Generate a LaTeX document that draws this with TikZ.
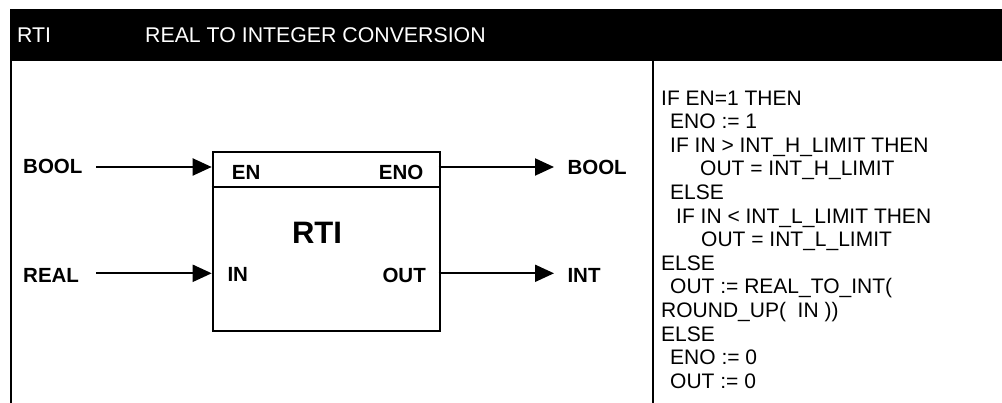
\documentclass[tikz,border=0pt]{standalone}
\usepackage{fontspec}
\setmainfont{Liberation Sans}
\usetikzlibrary{arrows.meta}
\begin{document}
\begin{tikzpicture}[x=1pt,y=-1pt,
  hdr/.style={anchor=base west,inner sep=0,text=white,font=\fontsize{21.3}{25}\selectfont},
  lbl/.style={inner sep=0,font=\fontsize{20.5}{24}\selectfont\bfseries},
  code/.style={anchor=base west,inner sep=0,font=\fontsize{21}{24}\selectfont},
  frame/.style={line width=2pt},
  sig/.style={line width=2pt,-{Triangle[length=19pt,width=17pt]}}]
\useasboundingbox (0,0) rectangle (1002,403);
% header bar
\fill[black] (10,9) rectangle (1002,61);
\node[hdr] (h1) at (17,42.7) {RTI};
\node[hdr] (h2) at (145,42.7) {REAL TO INTEGER CONVERSION};
% table lines
\coordinate (lt) at (11,61);
\coordinate (lb) at (11,403);
\coordinate (st) at (653,61);
\coordinate (sb) at (653,403);
\draw[frame] (lt) -- (lb);
\draw[frame] (st) -- (sb);
% block
\node[draw,frame,anchor=north west,inner sep=0,minimum width=227pt,minimum height=179pt] (blk) at (211.7,151) {};
\coordinate (sepL) at (211.7,187);
\coordinate (sepR) at (438.7,187);
\draw[frame] (sepL) -- (sepR);
\node[lbl,anchor=base west] (en) at (231.7,180) {EN};
\node[lbl,anchor=base east] (eno) at (423.5,180) {ENO};
\node[inner sep=0,anchor=base,font=\fontsize{31}{36}\selectfont\bfseries] (title) at (317,243.5) {RTI};
\node[lbl,anchor=base west] (in) at (227.3,282) {IN};
\node[lbl,anchor=base east] (out) at (426,283) {OUT};
% signal labels
\node[lbl,anchor=base west] (bin) at (23,173.5) {BOOL};
\node[lbl,anchor=base west] (rin) at (23,283) {REAL};
\node[lbl,anchor=base west] (bout) at (567.3,174.5) {BOOL};
\node[lbl,anchor=base west] (iout) at (567.3,283) {INT};
% connectors
\coordinate (a1s) at (96,167);
\coordinate (a1e) at (211.7,167);
\coordinate (a2s) at (96,273.3);
\coordinate (a2e) at (211.7,273.3);
\coordinate (a3s) at (438.7,167);
\coordinate (a3e) at (554,167);
\coordinate (a4s) at (438.7,273.3);
\coordinate (a4e) at (554,273.3);
\draw[sig] (a1s) -- (a1e);
\draw[sig] (a2s) -- (a2e);
\draw[sig] (a3s) -- (a3e);
\draw[sig] (a4s) -- (a4e);
% code
\node[code] (c1) at (661,105.2) {IF EN=1 THEN};
\node[code] (c2) at (670,128.8) {ENO := 1};
\node[code] (c3) at (670,152.4) {IF IN > INT\_H\_LIMIT THEN};
\node[code] (c4) at (700,176.0) {OUT = INT\_H\_LIMIT};
\node[code] (c5) at (670,199.6) {ELSE};
\node[code] (c6) at (676,223.2) {IF IN < INT\_L\_LIMIT THEN};
\node[code] (c7) at (701,246.8) {OUT = INT\_L\_LIMIT};
\node[code] (c8) at (661,270.4) {ELSE};
\node[code] (c9) at (670,294.0) {OUT := REAL\_TO\_INT(};
\node[code] (c10) at (661,317.6) {ROUND\_UP(\ \ IN ))};
\node[code] (c11) at (661,341.2) {ELSE};
\node[code] (c12) at (670,364.8) {ENO := 0};
\node[code] (c13) at (670,388.4) {OUT := 0};
\end{tikzpicture}
\end{document}
